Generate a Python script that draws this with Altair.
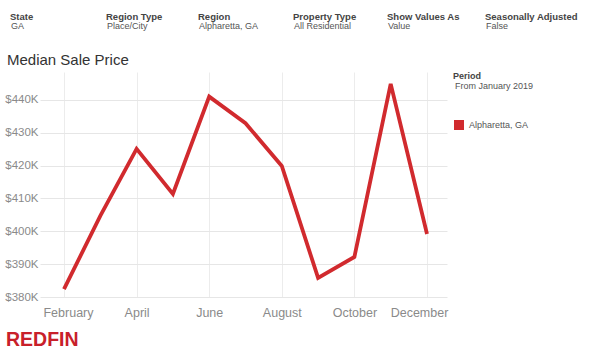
import altair as alt
import pandas as pd

months = ["February", "March", "April", "May", "June", "July", "August",
          "September", "October", "November", "December"]
prices = [382400, 404700, 425100, 411400, 441000, 432900, 419900,
          385800, 392200, 444900, 399200]
region = "Alpharetta, GA"

header_labels = ["State", "Region Type", "Region", "Property Type",
                 "Show Values As", "Seasonally Adjusted"]
header_values = ["GA", "Place/City", "Alpharetta, GA", "All Residential",
                 "Value", "False"]
header_x = [10, 106, 198, 293, 387, 485]

y_ticks = [380000, 390000, 400000, 410000, 420000, 430000, 440000]
x_ticks = [2, 4, 6, 8, 10, 12]

FONT = "Liberation Sans"
RED = "#d12a2e"

df = pd.DataFrame({
    "month_num": list(range(2, 2 + len(months))),
    "month": months,
    "price": prices,
    "region": [region] * len(months),
})

name_array = "[" + ",".join(["''", "''"] + ["'" + m + "'" for m in months]) + "]"

PL, PT = 40, 72  # plot origin

line = alt.Chart(df).mark_line(strokeWidth=3.8, strokeJoin="miter", clip=False).encode(
    x=alt.X("month_num:Q",
            scale=alt.Scale(domain=[1.339, 12.551], nice=False, zero=False),
            axis=alt.Axis(values=x_ticks, title=None, grid=True, domain=False,
                          ticks=False, labelPadding=9, labelFontSize=12.5,
                          labelColor="#8a8a8a", labelFont=FONT,
                          gridColor="#ececec", labelFlush=False,
                          labelExpr=name_array + "[datum.value]",
                          labelOffset=alt.expr("datum.value == 2 ? 4 : (datum.value == 12 ? -8 : 0)"))),
    y=alt.Y("price:Q",
            scale=alt.Scale(domain=[380000, 448500], nice=False, zero=False),
            axis=alt.Axis(values=y_ticks, title=None, grid=True, domain=False,
                          ticks=False, labelPadding=2, labelFontSize=11.5,
                          labelColor="#8a8a8a", labelFont=FONT,
                          gridColor="#e6e6e6",
                          labelExpr="'$' + format(datum.value / 1000, 'd') + 'K'")),
    color=alt.Color("region:N",
                    scale=alt.Scale(domain=[region], range=[RED]),
                    legend=alt.Legend(title=None, orient="none", legendX=414, legendY=48,
                                      symbolType="square", symbolSize=100,
                                      symbolFillColor=RED, symbolStrokeColor=RED,
                                      symbolStrokeWidth=0, symbolOpacity=1,
                                      labelFontSize=9, labelColor="#555555",
                                      labelFont=FONT, labelOffset=5, padding=0)),
)

layers = [line]


def text_layer(txt, x, y, size, color, weight="normal"):
    return alt.Chart(pd.DataFrame({"t": [txt]})).mark_text(
        align="left", baseline="alphabetic", fontSize=size, font=FONT,
        color=color, fontWeight=weight
    ).encode(text="t:N", x=alt.value(x - PL), y=alt.value(y - PT))


for lab, val, hx in zip(header_labels, header_values, header_x):
    layers.append(text_layer(lab, hx, 20, 9.5, "#444444", "bold"))
    layers.append(text_layer(val, hx + 1, 29, 9, "#555555"))

layers.append(text_layer("Median Sale Price", 7, 65, 15, "#333333"))
layers.append(text_layer("Period", 453, 79, 9, "#444444", "bold"))
layers.append(text_layer("From January 2019", 455, 89, 9, "#555555"))
layers.append(text_layer("REDFIN", 6, 346, 19.5, "#c8202a", "bold"))

chart = alt.layer(*layers).properties(
    width=407, height=225,
    autosize=alt.AutoSizeParams(type="none"),
    padding={"left": PL, "top": PT, "right": 600 - PL - 407, "bottom": 353 - PT - 225},
    background="white",
).configure_view(stroke=None)

chart.save("out.html", embed_options={"renderer": "svg", "actions": False})
